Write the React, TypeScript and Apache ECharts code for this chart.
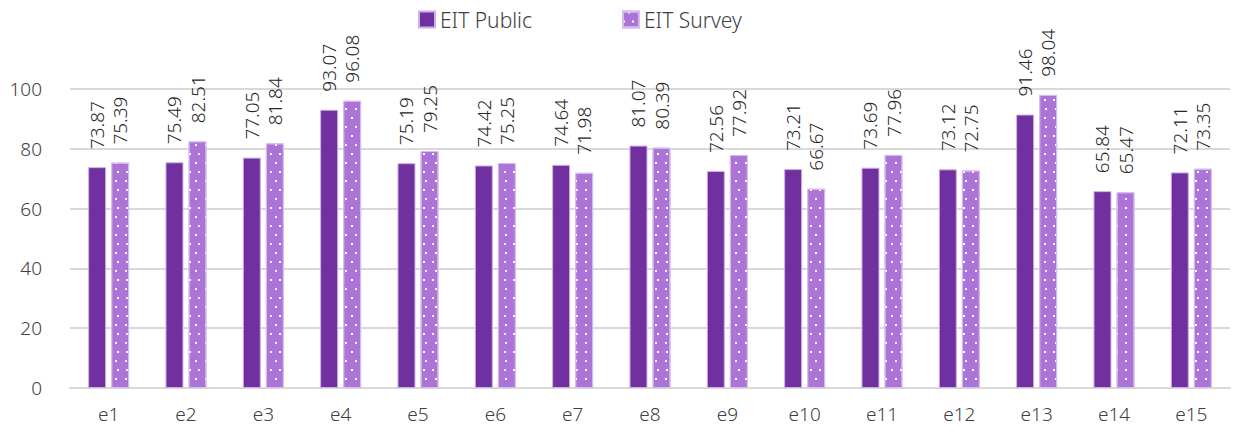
import React, { useEffect, useRef } from "react";
import * as echarts from "echarts";

const categories = ["e1","e2","e3","e4","e5","e6","e7","e8","e9","e10","e11","e12","e13","e14","e15"];
const publicValues = [73.87,75.49,77.05,93.07,75.19,74.42,74.64,81.07,72.56,73.21,73.69,73.12,91.46,65.84,72.11];
const surveyValues = [75.39,82.51,81.84,96.08,79.25,75.25,71.98,80.39,77.92,66.67,77.96,72.75,98.04,65.47,73.35];
const seriesNames = ["EIT Public", "EIT Survey"];

const FONT = "'Noto Sans', 'Liberation Sans', sans-serif";

export default function App() {
  const ref = useRef<HTMLDivElement>(null);
  useEffect(() => {
    document.body.style.margin = "0";
    const chart = echarts.init(ref.current!, null, { renderer: "svg" });
    const label = {
      show: true,
      position: "top" as const,
      distance: 18,
      rotate: 90,
      align: "left" as const,
      verticalAlign: "middle" as const,
      fontSize: 19,
      fontWeight: 300,
      fontFamily: FONT,
      color: "#262626",
      formatter: (p: any) => Number(p.value).toFixed(2),
    };
    chart.setOption({
      animation: false,
      textStyle: { fontFamily: FONT },
      legend: {
        top: 4,
        left: 413,
        itemWidth: 16,
        itemHeight: 16,
        itemGap: 90,
        icon: "rect",
        textStyle: { fontSize: 21, fontWeight: 300, color: "#404040", fontFamily: FONT },
        data: seriesNames,
      },
      grid: { left: 70, right: 4, top: 89, bottom: 51 },
      xAxis: {
        type: "category",
        data: categories,
        axisTick: { show: false },
        axisLine: { lineStyle: { color: "#d9d9d9", width: 2 } },
        axisLabel: { fontSize: 19, fontWeight: 300, color: "#404040", margin: 16, fontFamily: FONT },
      },
      yAxis: {
        type: "value",
        min: 0,
        max: 100,
        interval: 20,
        axisLabel: { fontSize: 19, fontWeight: 300, color: "#404040", margin: 28, fontFamily: FONT },
        splitLine: { lineStyle: { color: "#d9d9d9", width: 2 } },
      },
      series: [
        {
          name: seriesNames[0],
          type: "bar",
          data: publicValues,
          barWidth: 18,
          barGap: "28%",
          itemStyle: { color: "#7030A0", borderColor: "#cdb0e6", borderWidth: 1 },
          label,
        },
        {
          name: seriesNames[1],
          type: "bar",
          data: surveyValues,
          barWidth: 18,
          itemStyle: {
            color: "#AD74D8",
            borderColor: "#d6bcee",
            borderWidth: 1,
            decal: {
              symbol: "rect",
              symbolSize: 1,
              color: "#ffffff",
              dashArrayX: [[2, 7], [0, 4.5, 2, 2.5]],
              dashArrayY: [2, 6.5],
              rotation: 0,
            },
          },
          label,
        },
      ],
    });
    return () => chart.dispose();
  }, []);
  return <div ref={ref} style={{ width: 1234, height: 439 }} />;
}
